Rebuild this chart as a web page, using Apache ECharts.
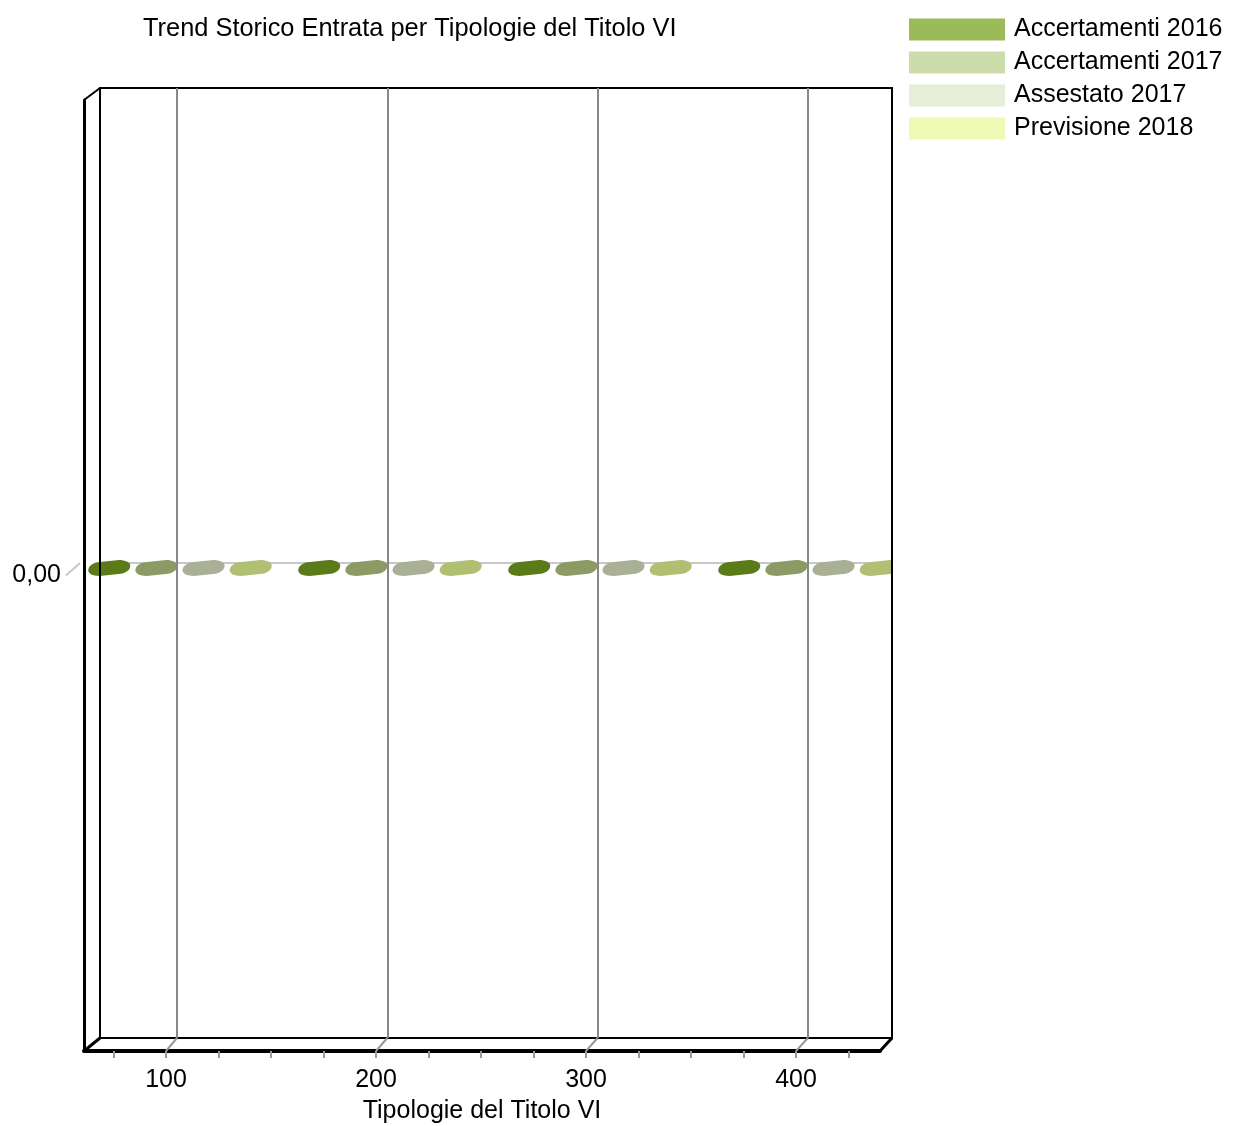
<!DOCTYPE html>
<html>
<head>
<meta charset="utf-8">
<script src="https://cdn.jsdelivr.net/npm/echarts/dist/echarts.min.js"></script>
<style>
  html, body { margin: 0; padding: 0; background: #fff; }
  #chart { width: 1234px; height: 1126px; }
</style>
</head>
<body>
<div id="chart"></div>
<script>
// ---- data ----
const chartTitle = 'Trend Storico Entrata per Tipologie del Titolo VI';
const xAxisName = 'Tipologie del Titolo VI';
const categories = ['100', '200', '300', '400'];
const seriesNames = ['Accertamenti 2016', 'Accertamenti 2017', 'Assestato 2017', 'Previsione 2018'];
const accertamenti2016 = [0, 0, 0, 0];
const accertamenti2017 = [0, 0, 0, 0];
const assestato2017 = [0, 0, 0, 0];
const previsione2018 = [0, 0, 0, 0];
const xTickValues = [75, 100, 125, 150, 175, 200, 225, 250, 275, 300, 325, 350, 375, 400, 425];
const xLabelValues = [100, 200, 300, 400];
const yLabelValues = [0];

// ---- styles ----
const legendColors = ['#9bbb59', '#cddcab', '#e6eed7', '#eefab3'];
const blobColors = ['#5a7b18', '#8c9b66', '#a9b095', '#b1bf73'];
const blobPath = 'path://M0,9 C0,6 3,3 9,2 L30,0 C36,0 41,2 41,5 C41,8 38,11 32,12 L11,14 C4,14 0,12 0,9 Z';
const baseFont = 'Liberation Sans';

const allSeries = [accertamenti2016, accertamenti2017, assestato2017, previsione2018];

const chart = echarts.init(document.getElementById('chart'));

const X_MIN = 60.95, X_MAX = 440, BX_MIN = 63.4;

const option = {
  animation: false,
  backgroundColor: '#ffffff',
  title: {
    text: chartTitle,
    left: 143,
    top: 16,
    padding: 0,
    textStyle: { fontFamily: baseFont, fontSize: 25.4, fontWeight: 'normal', color: '#000' }
  },
  legend: {
    orient: 'vertical',
    left: 909,
    top: 17,
    padding: 0,
    itemWidth: 96,
    itemHeight: 22,
    itemGap: 8,
    icon: 'rect',
    selectedMode: false,
    textStyle: { fontFamily: baseFont, fontSize: 25, color: '#000', padding: [0, 0, 0, 4] },
    data: seriesNames.map((n, i) => ({ name: n, itemStyle: { color: legendColors[i] } }))
  },
  grid: [
    { left: 84, right: 354, top: 100, bottom: 75, outerBoundsMode: 'none', containLabel: false },   // front plane
    { left: 100, right: 342, top: 88, bottom: 88, outerBoundsMode: 'none', show: true, borderColor: '#000', borderWidth: 2, z: 5 }, // back wall
    { left: 75, right: 319, top: 93, bottom: 83, outerBoundsMode: 'none' }   // bar tops
  ],
  xAxis: [
    {
      gridIndex: 0, type: 'value', min: X_MIN, max: X_MAX, position: 'bottom',
      axisLine: { show: true, onZero: false, lineStyle: { color: '#000', width: 4 } },
      axisTick: { show: true, customValues: xTickValues, length: 7, lineStyle: { color: '#999', width: 2 } },
      axisLabel: { customValues: xLabelValues, fontSize: 25, color: '#000', margin: 17, fontFamily: baseFont },
      splitLine: { show: false },
      name: xAxisName, nameLocation: 'middle', nameGap: 48,
      nameTextStyle: { fontFamily: baseFont, fontSize: 25, color: '#000' }
    },
    {
      gridIndex: 1, type: 'value', min: BX_MIN, max: X_MAX, z: 6,
      axisLine: { show: false, onZero: false },
      axisTick: { show: false, customValues: xLabelValues },
      axisLabel: { show: false, customValues: xLabelValues },
      splitLine: { show: true, lineStyle: { color: '#888', width: 2 } }
    },
    {
      gridIndex: 2, type: 'category', data: categories, show: false
    }
  ],
  yAxis: [
    {
      gridIndex: 0, type: 'value', min: -1, max: 1, position: 'left',
      axisLine: { show: true, onZero: false, lineStyle: { color: '#000', width: 3 } },
      axisTick: { show: false, customValues: yLabelValues },
      axisLabel: { customValues: yLabelValues, fontSize: 25, color: '#000', margin: 23, fontFamily: baseFont,
        formatter: v => v.toFixed(2).replace('.', ',') },
      splitLine: { show: false }
    },
    {
      gridIndex: 1, type: 'value', min: -1, max: 1, z: 1,
      axisLine: { show: false, onZero: false },
      axisTick: { show: false, customValues: yLabelValues },
      axisLabel: { show: false, customValues: yLabelValues },
      splitLine: { show: true, lineStyle: { color: '#c8c8c8', width: 2 } }
    },
    {
      gridIndex: 2, type: 'value', min: -1, max: 1, show: false
    }
  ],
  series: seriesNames.map((n, i) => ({
    name: n,
    type: 'pictorialBar',
    xAxisIndex: 2,
    yAxisIndex: 2,
    data: allSeries[i],
    symbol: blobPath,
    symbolSize: [42, 16],
    symbolPosition: 'center',
    barWidth: 41,
    barGap: '15%',
    itemStyle: { color: blobColors[i] },
    z: 3
  }))
};

chart.setOption(option);

// 3D frame decorations derived from the axes
function px(grid, v) { return chart.convertToPixel({ gridIndex: grid }, v); }
const gfx = [];
function line(a, b, color, width) {
  gfx.push({ type: 'line', z: 20, shape: { x1: a[0], y1: a[1], x2: b[0], y2: b[1] }, style: { stroke: color, lineWidth: width } });
}
// frame corners
const backTR = px(1, [X_MAX, 1]);
const backBR = px(1, [X_MAX, -1]);
line(px(0, [X_MIN, 1]), px(1, [BX_MIN, 1]), '#000', 2);
line(px(0, [X_MIN, -1]), px(1, [BX_MIN, -1]), '#000', 3);
line(px(0, [X_MAX, -1]), backBR, '#000', 3);
// category tick diagonals
xLabelValues.forEach(v => {
  line(px(0, [v, -1]), px(1, [v, -1]), '#999', 2);
});
// y tick diagonal
const z0 = px(0, [X_MIN, 0]);
const z1 = px(1, [BX_MIN, 0]);
line([z0[0] - 18, z0[1]], [z0[0] - 4, z1[1]], '#c8c8c8', 2);
// mask: bar tops do not extend beyond the back wall
gfx.push({ type: 'rect', z: 10, shape: { x: backTR[0] + 1, y: z1[1] - 15, width: 16, height: 40 }, style: { fill: '#fff' } });

chart.setOption({ graphic: gfx });
</script>
</body>
</html>
